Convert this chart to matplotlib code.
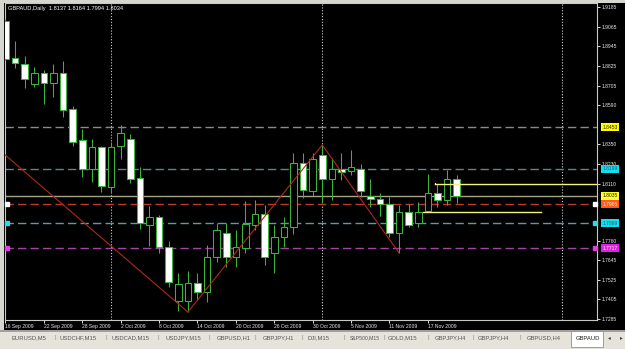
import matplotlib
matplotlib.use('Agg')
import matplotlib.pyplot as plt
from matplotlib.patches import Rectangle
from matplotlib.transforms import blended_transform_factory

W, H = 625, 349

# GBPAUD daily bars, 16 Sep 2009 .. 20 Nov 2009 (weekdays only)
opens = [1.9100, 1.8874, 1.8838, 1.8716, 1.8783, 1.8722, 1.8783, 1.8564, 1.8375, 1.8198,
         1.8332, 1.8089, 1.8338, 1.8381, 1.8144, 1.7857, 1.7906, 1.7723, 1.7395, 1.7395,
         1.7504, 1.7449, 1.7662, 1.7809, 1.7662, 1.7717, 1.7857, 1.7924, 1.7687, 1.7784,
         1.7845, 1.8235, 1.8064, 1.8284, 1.8137, 1.8198, 1.8186, 1.8198, 1.8034, 1.8016,
         1.7985, 1.7809, 1.7936, 1.7870, 1.7942, 1.8052, 1.8010, 1.8137]
highs = [1.9110, 1.8978, 1.8887, 1.8820, 1.8801, 1.8838, 1.8856, 1.8582, 1.8442, 1.8381,
         1.8338, 1.8363, 1.8466, 1.8412, 1.8211, 1.7973, 1.7918, 1.7760, 1.7565, 1.7577,
         1.7565, 1.7735, 1.7870, 1.7870, 1.7827, 1.8004, 1.8010, 1.7979, 1.7857, 1.7906,
         1.8296, 1.8296, 1.8296, 1.8345, 1.8265, 1.8296, 1.8314, 1.8229, 1.8137, 1.8052,
         1.8028, 1.7979, 1.7985, 1.7997, 1.8168, 1.8107, 1.8192, 1.8164]
lows = [1.8860, 1.8814, 1.8692, 1.8698, 1.8594, 1.8637, 1.8515, 1.8338, 1.8150, 1.8119,
        1.8058, 1.8052, 1.8259, 1.8113, 1.7833, 1.7729, 1.7687, 1.7480, 1.7334, 1.7327,
        1.7400, 1.7388, 1.7632, 1.7602, 1.7602, 1.7687, 1.7827, 1.7614, 1.7565, 1.7723,
        1.7803, 1.8022, 1.8034, 1.7991, 1.8010, 1.8131, 1.8162, 1.8028, 1.7967, 1.7912,
        1.7784, 1.7687, 1.7845, 1.7845, 1.7936, 1.7967, 1.7979, 1.7994]
closes = [1.8868, 1.8844, 1.8746, 1.8783, 1.8722, 1.8783, 1.8558, 1.8363, 1.8197, 1.8332,
          1.8095, 1.8332, 1.8418, 1.8137, 1.7870, 1.7906, 1.7723, 1.7510, 1.7498, 1.7504,
          1.7449, 1.7662, 1.7827, 1.7662, 1.7723, 1.7863, 1.7924, 1.7662, 1.7784, 1.7845,
          1.8235, 1.8070, 1.8259, 1.8137, 1.8198, 1.8180, 1.8210, 1.8064, 1.8016, 1.7985,
          1.7809, 1.7936, 1.7857, 1.7936, 1.8052, 1.8010, 1.8137, 1.8034]

date_labels = ['16 Sep 2009', '22 Sep 2009', '28 Sep 2009', '2 Oct 2009', '8 Oct 2009',
               '14 Oct 2009', '20 Oct 2009', '26 Oct 2009', '30 Oct 2009', '5 Nov 2009',
               '11 Nov 2009', '17 Nov 2009']
date_pos = [0, 4, 8, 12, 16, 20, 24, 28, 32, 36, 40, 44]

price_ticks = [1.9185, 1.9065, 1.8945, 1.8825, 1.8705, 1.8590, 1.8350, 1.8230, 1.8110,
               1.7760, 1.7645, 1.7525, 1.7405, 1.7285]

# horizontal levels with their price tags
levels = [1.8453, 1.8199, 1.8035, 1.7985, 1.7869, 1.7717]
level_colors = ['#8a8c80', '#5a8888', '#a4a488', '#b83c28', '#48a4ac', '#a444a4']
level_dashed = [True, True, False, True, True, True]
tag_bg = ['#ffff00', '#10e0ec', '#ffff30', '#ff5a1e', '#10e0ec', '#e020e0']
tag_fg = ['#202000', '#20607a', '#202000', '#ffe0d0', '#20607a', '#ffe0ff']
marked = [1.7985, 1.7869, 1.7717]
mark_colors = ['#ffffff', '#30d8e8', '#e040e0']

# zigzag vertices (bar index, price)
zz_x = [-3, 19, 33, 41]
zz_y = [1.8433, 1.7327, 1.8345, 1.7687]

separators = [11, 33, 58]

# yellow trend lines: (start, end, price)
yl_start = [44.7, 43.5]
yl_end = [61.7, 55.8]
yl_price = [1.8107, 1.7937]

tabs = ['EURUSD,M5', 'USDCHF,M15', 'USDCAD,M15', 'USDJPY,M15', 'GBPUSD,H1', 'GBPJPY,H1',
        'DJI,M15', 'S&P500,M15', 'GOLD,M15', 'GBPJPY,H4', 'GBPJPY,H4', 'GBPUSD,H4']
tab_x = [12, 60, 112, 165, 217, 263, 307, 350, 388, 435, 478, 527]
tab_size = [4.2, 4.2, 4.2, 4.2, 4.2, 4.2, 4.2, 3.7, 4.2, 4.2, 4.2, 4.2]
sep_x = [55, 106, 158, 209, 255, 302, 344, 384, 428, 473, 520]

plt.rcParams['font.family'] = ['Liberation Sans', 'DejaVu Sans']

fig = plt.figure(figsize=(W / 100, H / 100), dpi=100, facecolor='black')

def fx(x):
    return x / W

def fy(y):
    return 1 - y / H

ax = fig.add_axes([fx(5), fy(320), (597 - 5) / W, (320 - 3) / H], facecolor='black')
ax.set_xlim(-0.05, 61.62)
ax.set_ylim(1.72788, 1.92094)

# candles: white body = down bar, black body = up bar
green = '#3cb43c'
n = len(opens)
for i in range(n):
    ax.vlines(i, lows[i], highs[i], color=green, lw=0.75, zorder=3)
    lo, hi = min(opens[i], closes[i]), max(opens[i], closes[i])
    face = 'white' if closes[i] < opens[i] else 'black'
    ax.bar(i, max(hi - lo, 0.0002), bottom=lo, width=0.68, color=face,
           edgecolor=green, linewidth=0.75, zorder=4)

for lv, c, d in zip(levels, level_colors, level_dashed):
    ax.axhline(lv, color=c, lw=1.0, ls=(0, (6, 3)) if d else '-', zorder=2)

for lv, c in zip(marked, mark_colors):
    ax.plot([0.12, 61.45], [lv, lv], ls='none', marker='s', ms=2.2, mfc=c,
            mec=c, zorder=5, clip_on=False)

ax.plot(zz_x, zz_y, color='#b02818', lw=0.8, zorder=5)

for s in separators:
    ax.axvline(s, color='#d0d0d0', lw=0.8, ls=(0, (1, 1.6)), zorder=1)

for a, b, p in zip(yl_start, yl_end, yl_price):
    ax.plot([a, b], [p, p], color='#f4f47a', lw=1.0, zorder=6)
ax.plot([yl_start[0], yl_start[0]], [yl_price[0], yl_price[0] + 0.0004],
        color='white', lw=0.8, zorder=6)

for sp in ax.spines.values():
    sp.set_color('#c8c8c8')
    sp.set_linewidth(0.8)

ax.yaxis.tick_right()
ax.set_yticks(price_ticks)
ax.set_yticklabels(['%.4f' % t for t in price_ticks])
ax.tick_params(axis='y', colors='white', length=2, width=0.6, pad=1, labelsize=3.6,
               labelcolor='#e8e8e8')
ax.set_xticks(date_pos)
ax.set_xticklabels(date_labels)
ax.tick_params(axis='x', colors='white', length=2, width=0.6, pad=1.2, labelsize=3.6,
               labelcolor='#e8e8e8')
for lbl in ax.get_xticklabels():
    lbl.set_ha('left')

tr = blended_transform_factory(ax.transAxes, ax.transData)
for lv, bg, fg in zip(levels, tag_bg, tag_fg):
    ax.text(1.0095, lv, '%.4f' % lv, transform=tr, fontsize=3.6, color=fg,
            va='center', ha='left', clip_on=False, zorder=10,
            bbox=dict(boxstyle='square,pad=0.25', fc=bg, ec='none'))

fig.text(fx(8), fy(8.5), 'GBPAUD,Daily  1.8137 1.8164 1.7994 1.8034', color='white',
         fontsize=4.1, va='center', ha='left')

# window frame strips
fig.patches.append(Rectangle((0, fy(331)), fx(4), 1, transform=fig.transFigure,
                             fc='#d6d6d0', ec='none', zorder=0))
fig.patches.append(Rectangle((0, fy(3)), 1, 1, transform=fig.transFigure,
                             fc='#d6d6d0', ec='none', zorder=0))
fig.patches.append(Rectangle((fx(3.5), fy(331)), fx(0.8), 1, transform=fig.transFigure,
                             fc='#808080', ec='none', zorder=1))

# tab bar
fig.patches.append(Rectangle((0, 0), 1, fy(331), transform=fig.transFigure,
                             fc='#e6e4da', ec='none', zorder=0))
fig.patches.append(Rectangle((0, fy(331.5)), 1, 0.004, transform=fig.transFigure,
                             fc='#a0a0a0', ec='none', zorder=1))
for t, x, fs in zip(tabs, tab_x, tab_size):
    fig.text(fx(x), fy(338), t, color='#555555', fontsize=fs, va='center', ha='left')
for x in sep_x:
    fig.text(fx(x), fy(338), '|', color='#8a8a8a', fontsize=4.2, va='center', ha='center')
active = Rectangle((fx(571), fy(347)), fx(32), (347 - 331) / H, transform=fig.transFigure,
                   fc='white', ec='#909090', lw=0.6, zorder=2)
fig.patches.append(active)
t = fig.text(fx(576), fy(338), 'GBPAUD', color='#222222', fontsize=4.2, va='center',
             ha='left', zorder=3)
t.set_clip_path(active)
fig.text(fx(609), fy(338), '\u25c2', color='#404040', fontsize=4, va='center',
         ha='center', family='DejaVu Sans')
fig.text(fx(621), fy(338), '\u25b8', color='#404040', fontsize=4, va='center',
         ha='center', family='DejaVu Sans')

fig.savefig('out.png', dpi=100, facecolor='black')
